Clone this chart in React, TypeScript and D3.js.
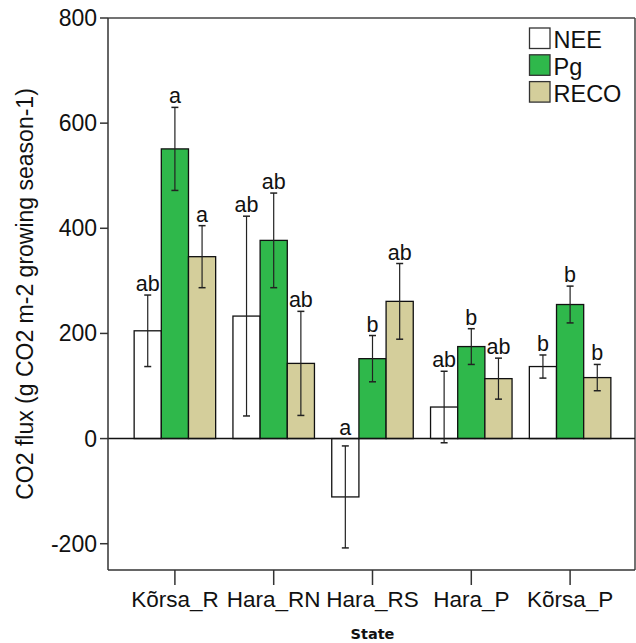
import React from "react";
import * as d3 from "d3";

const categories = ["Kõrsa_R", "Hara_RN", "Hara_RS", "Hara_P", "Kõrsa_P"];
const seriesNames = ["NEE", "Pg", "RECO"];
const neeValues = [205, 233, -111, 60, 137];
const neeErrors = [68, 190, 97, 68, 22];
const pgValues = [551, 377, 152, 175, 255];
const pgErrors = [79, 90, 44, 34, 35];
const recoValues = [346, 143, 261, 114, 116];
const recoErrors = [59, 99, 72, 39, 25];
const neeLetters = ["ab", "ab", "a", "ab", "b"];
const pgLetters = ["a", "ab", "b", "b", "b"];
const recoLetters = ["a", "ab", "ab", "ab", "b"];
const yTicks = [-200, 0, 200, 400, 600, 800];

const colors: Record<string, string> = { NEE: "#ffffff", Pg: "#2fb84b", RECO: "#d4ce9b" };
const FONT = "Arial, 'Liberation Sans', sans-serif";

export default function App() {
  const left = 108, right = 635, top = 18, bottom = 570;
  const y = d3.scaleLinear().domain([-250, 800]).range([bottom, top]);
  const x = d3.scaleBand<string>().domain(categories).range([125.5, 619.5]).paddingInner(0.175).paddingOuter(0.0875);
  const xs = d3.scaleBand<string>().domain(seriesNames).range([0, x.bandwidth()]).padding(0);
  const data = [
    { name: "NEE", values: neeValues, errors: neeErrors, letters: neeLetters },
    { name: "Pg", values: pgValues, errors: pgErrors, letters: pgLetters },
    { name: "RECO", values: recoValues, errors: recoErrors, letters: recoLetters },
  ];
  const y0 = y(0);
  return (
    <svg width={636} height={643} style={{ display: "block", position: "absolute", left: 0, top: 0, background: "#fff" }}>
      <rect x={0} y={0} width={636} height={643} fill="#fff" />
      {/* frame */}
      <line x1={left} x2={right} y1={top} y2={top} stroke="#444" strokeWidth={1.5} />
      <line x1={right} x2={right} y1={top} y2={bottom} stroke="#444" strokeWidth={1.5} />
      <line x1={left} x2={right} y1={bottom} y2={bottom} stroke="#333" strokeWidth={1.5} />
      {/* bars */}
      {data.map((s) =>
        categories.map((c, i) => {
          const v = s.values[i];
          const bx = (x(c) as number) + (xs(s.name) as number);
          const w = xs.bandwidth();
          const yt = y(Math.max(0, v));
          const yb = y(Math.min(0, v));
          return (
            <rect key={s.name + c} x={bx} y={yt} width={w} height={yb - yt} fill={colors[s.name]} stroke="#111" strokeWidth={1.3} />
          );
        })
      )}
      {/* zero line */}
      <line x1={left} x2={right} y1={y0} y2={y0} stroke="#111" strokeWidth={1.5} />
      {/* error bars and letters */}
      {data.map((s) =>
        categories.map((c, i) => {
          const v = s.values[i];
          const e = s.errors[i];
          const cx = (x(c) as number) + (xs(s.name) as number) + xs.bandwidth() / 2;
          const yu = y(v + e);
          const yl = y(v - e);
          const labelY = Math.min(yu, y0) - 4;
          return (
            <g key={"e" + s.name + c}>
              <line x1={cx} x2={cx} y1={yu} y2={yl} stroke="#222" strokeWidth={1.2} />
              <line x1={cx - 3.5} x2={cx + 3.5} y1={yu} y2={yu} stroke="#222" strokeWidth={1.5} />
              <line x1={cx - 3.5} x2={cx + 3.5} y1={yl} y2={yl} stroke="#222" strokeWidth={1.5} />
              <text x={cx} y={labelY} textAnchor="middle" fontFamily={FONT} fontSize={21.5} fill="#111">
                {s.letters[i]}
              </text>
            </g>
          );
        })
      )}
      {/* y axis */}
      <line x1={left} x2={left} y1={top} y2={bottom} stroke="#333" strokeWidth={1.5} />
      {yTicks.map((t) => (
        <g key={"yt" + t}>
          <line x1={left - 8} x2={left} y1={y(t)} y2={y(t)} stroke="#333" strokeWidth={1.5} />
          <text x={left - 11} y={y(t) + 8} textAnchor="end" fontFamily={FONT} fontSize={23} fill="#111">
            {t}
          </text>
        </g>
      ))}
      <text
        transform={`translate(33, ${(top + bottom) / 2}) rotate(-90)`}
        textAnchor="middle"
        fontFamily={FONT}
        fontSize={23}
        fill="#111"
      >
        CO2 flux (g CO2 m-2 growing season-1)
      </text>
      {/* x axis */}
      {categories.map((c) => {
        const cx = (x(c) as number) + x.bandwidth() / 2;
        return (
          <g key={"xt" + c}>
            <line x1={cx} x2={cx} y1={bottom} y2={bottom + 15} stroke="#333" strokeWidth={1.5} />
            <text x={cx} y={607} textAnchor="middle" fontFamily={FONT} fontSize={22.5} fill="#111">
              {c}
            </text>
          </g>
        );
      })}
      <text x={(left + right) / 2 + 1} y={639} textAnchor="middle" fontFamily="'DejaVu Sans', Verdana, sans-serif" fontWeight="bold" fontSize={14.5} fill="#111">
        State
      </text>
      {/* legend */}
      {seriesNames.map((n, i) => (
        <g key={"lg" + n}>
          <rect x={529.5} y={28 + i * 26.8} width={20.5} height={20.5} fill={colors[n]} stroke="#333" strokeWidth={1.3} />
          <text x={553.5} y={48 + i * 26.8} fontFamily={FONT} fontSize={23.5} fill="#111">
            {n}
          </text>
        </g>
      ))}
    </svg>
  );
}
